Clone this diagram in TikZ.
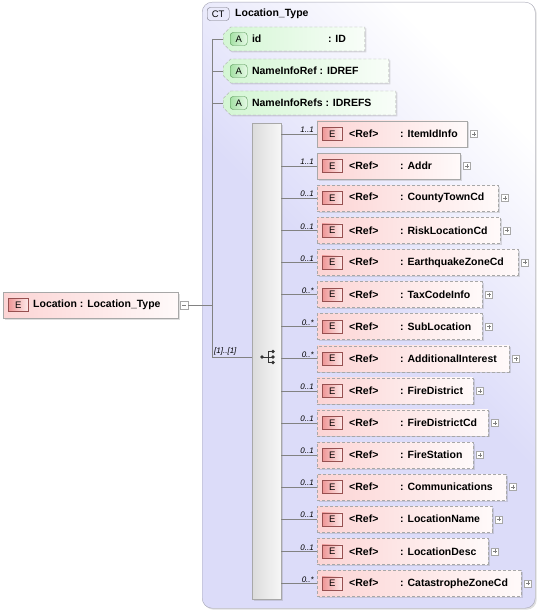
\documentclass[tikz,border=0pt]{standalone}
\usepackage{fontspec}
\setmainfont{Liberation Sans}
\usetikzlibrary{shapes.misc,shadows}

\definecolor{ctfill}{RGB}{220,220,249}
\definecolor{ctedge}{RGB}{165,165,180}
\definecolor{elfill}{RGB}{252,212,212}
\definecolor{elicon}{RGB}{238,150,150}
\definecolor{eledge}{RGB}{150,80,80}
\definecolor{atfill}{RGB}{212,246,212}
\definecolor{aticon}{RGB}{165,225,165}
\definecolor{atedge}{RGB}{80,145,80}
\definecolor{boxedge}{RGB}{168,168,168}
\definecolor{wire}{RGB}{130,130,130}

\begin{document}
\begin{tikzpicture}[x=1pt,y=-1pt,font=\bfseries\fontsize{10.5}{12}\selectfont]
\tikzstyle{shade}=[drop shadow={shadow xshift=1.5pt,shadow yshift=-1.5pt,opacity=0.25}]
\tikzstyle{ctbox}=[draw=ctedge,rounded corners=10pt,top color=white,bottom color=ctfill,middle color=ctfill,shading angle=-45,inner sep=0pt,shade]
\tikzstyle{element}=[draw=boxedge,left color=elfill,right color=elfill!12!white,minimum height=26pt,inner sep=0pt,shade]
\tikzstyle{attribute}=[draw=boxedge,chamfered rectangle,chamfered rectangle corners={north west,south west},chamfered rectangle xsep=6pt,left color=atfill,right color=atfill!15!white,minimum height=24pt,inner sep=0pt,shade]
\tikzstyle{optional}=[dash pattern=on 3pt off 2pt]
\tikzstyle{required}=[]
\tikzstyle{eicon}=[draw=eledge,left color=elicon,right color=elfill!50!white,minimum width=20pt,minimum height=13pt,inner sep=0pt,font=\fontsize{9.5}{10}\selectfont]
\tikzstyle{aicon}=[draw=atedge,rounded corners=3pt,left color=aticon,right color=atfill!60!white,minimum width=17pt,minimum height=13pt,inner sep=0pt,font=\fontsize{9.5}{10}\selectfont]
\tikzstyle{cticon}=[draw=ctedge!70!black,rounded corners=3pt,fill=ctfill!60!white,minimum width=22pt,minimum height=13pt,inner sep=0pt,font=\fontsize{9.5}{10}\selectfont]
\tikzstyle{plusbox}=[draw=boxedge,fill=white,minimum size=7pt,inner sep=0pt,
  path picture={\draw[gray,line width=0.5pt] ([xshift=-2pt]path picture bounding box.center) -- ([xshift=2pt]path picture bounding box.center)
    ([yshift=-2pt]path picture bounding box.center) -- ([yshift=2pt]path picture bounding box.center);}]
\tikzstyle{mult}=[inner sep=0pt,font=\itshape\fontsize{8}{9}\selectfont]
\tikzstyle{link}=[draw=wire,line width=0.6pt]

\useasboundingbox (0,0) rectangle (538,612);

% complex type frame
\node[ctbox,anchor=north west,minimum width=333pt,minimum height=606pt] (ct) at (202,2) {};
\node[cticon,anchor=west] (cticon) at (207,14) {CT};
\node[anchor=west,inner sep=0pt] (ctname) at (235,13.5) {Location\_Type};

% root element
\node[element,anchor=west] (loc) at (3,305) {\makebox[175pt][l]{\hspace{30pt}Location : Location\_Type}};
\node[eicon,anchor=west] (locicon) at ([xshift=5pt]loc.west) {E};
\node[plusbox,minimum size=8pt,anchor=west,path picture={\draw[gray,line width=0.5pt] ([xshift=-2pt]path picture bounding box.center) -- ([xshift=2pt]path picture bounding box.center);}] (locminus) at ([xshift=1.5pt]loc.east) {};

% attributes
\foreach \nm/\aw [count=\i from 0] in {\makebox[76pt][l]{id}: ID/134,NameInfoRef : IDREF/158,NameInfoRefs : IDREFS/165}{
  \pgfmathsetmacro\yy{39+32*\i}
  \node[attribute,optional,anchor=west] (at\i) at (223,\yy) {\makebox[\aw pt][l]{\hspace{25pt}\nm}};
  \node[aicon,anchor=west] (aicon\i) at ([xshift=7pt]at\i.west) {A};
}

% sequence
\node[draw=boxedge,left color=white!86!black,right color=white!97!black,minimum width=29pt,minimum height=476pt,inner sep=0pt,anchor=north west,shade] (seq) at (252,123) {};
\coordinate (seqc) at (268,357);
\coordinate (spine) at (212,357);

% child elements
\foreach \nm/\mu/\ds/\rx [count=\i from 0] in {
  ItemIdInfo/1..1/required/467,
  Addr/1..1/required/460,
  CountyTownCd/0..1/optional/498,
  RiskLocationCd/0..1/optional/500,
  EarthquakeZoneCd/0..1/optional/518,
  TaxCodeInfo/0..*/optional/482,
  SubLocation/0..*/optional/482,
  AdditionalInterest/0..*/optional/509,
  FireDistrict/0..1/optional/473,
  FireDistrictCd/0..1/optional/488,
  FireStation/0..1/optional/473,
  Communications/0..1/optional/506,
  LocationName/0..1/optional/492,
  LocationDesc/0..1/optional/488,
  CatastropheZoneCd/0..*/optional/521}{
  \pgfmathsetmacro\yy{134+32.1*\i}
  \pgfmathsetmacro\ww{\rx-317}
  \node[element,\ds,anchor=west] (el\i) at (317,\yy) {\makebox[\ww pt][l]{\hspace{32pt}\makebox[51pt][l]{<Ref>}: \nm}};
  \node[eicon,anchor=west] (eicon\i) at ([xshift=5pt]el\i.west) {E};
  \node[plusbox,anchor=west] (plus\i) at ([xshift=3pt]el\i.east) {};
  \node[mult,anchor=south east] (mult\i) at ([xshift=-3pt,yshift=1pt]el\i.west) {\mu};
  \draw[link] (seq.east |- el\i.west) -- (el\i.west);
}

% connectors
\draw[link] (locminus.east) -- (locminus.east -| spine);
\draw[link] (spine |- at0.west) -- (spine);
\foreach \i in {0,1,2}
  \draw[link] (spine |- at\i.west) -- (at\i.west);
\draw[link] (spine) -- (seq.west |- spine);
\node[mult,anchor=south west] (seqmult) at ([xshift=2pt,yshift=2pt]spine) {[1]..[1]};

% sequence symbol
\draw[black!80,line width=0.8pt] ([xshift=-6pt]seqc) -- (seqc) ([yshift=5.5pt]seqc) -- ([yshift=-5.5pt]seqc)
  ([yshift=5.5pt]seqc) -- ([xshift=5pt,yshift=5.5pt]seqc) (seqc) -- ([xshift=5pt]seqc)
  ([yshift=-5.5pt]seqc) -- ([xshift=5pt,yshift=-5.5pt]seqc);
\foreach \dx/\dy in {-6/0,5/5.5,5/0,5/-5.5}
  \fill[black!80] ([xshift=\dx pt,yshift=\dy pt]seqc) circle (1.8pt);
\end{tikzpicture}
\end{document}
